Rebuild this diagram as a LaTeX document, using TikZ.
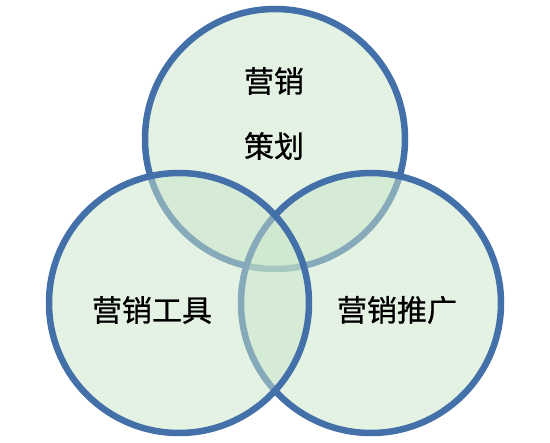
\documentclass[tikz,border=0pt]{standalone}
\usepackage{fontspec}
\newfontfamily\cjk[FakeBold=0.8]{Noto Sans CJK SC}
\definecolor{ringblue}{HTML}{4470AA}
\definecolor{ringfill}{HTML}{C9E5C9}
\tikzset{
  ring/.style={circle, minimum size=260pt, inner sep=0pt, draw=ringblue, line width=6.5pt, fill=ringfill, fill opacity=0.5, draw opacity=1},
  label/.style={font=\cjk\fontsize{30}{34}\selectfont, text=black, align=center}
}
\begin{document}
\begin{tikzpicture}[x=1pt,y=-1pt]
\useasboundingbox (0,0) rectangle (550,443);
\node[ring] (top) at (275,139) {};
\node[ring] (right) at (371,303) {};
\node[ring] (left) at (179,303) {};
\node[label] (t1) at (274,81) {营销};
\node[label] (t2) at (274,146) {策划};
\node[label] (tl) at (152,310) {营销工具};
\node[label] (tr) at (397,310) {营销推广};
\end{tikzpicture}
\end{document}
